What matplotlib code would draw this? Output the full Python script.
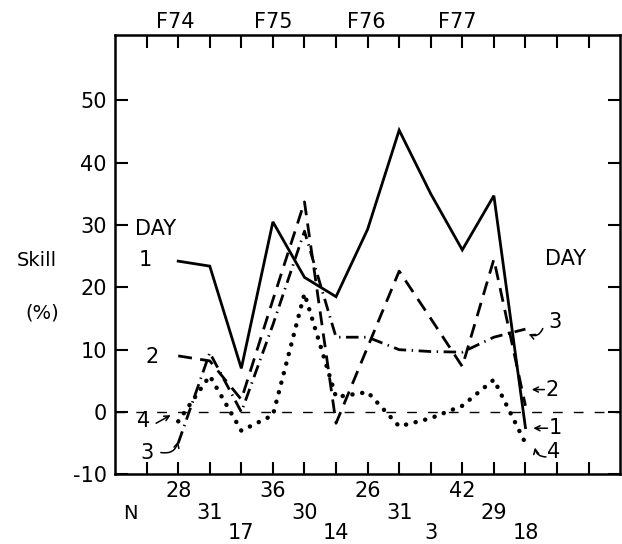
import matplotlib
matplotlib.use("Agg")
import matplotlib.pyplot as plt

# season index along the x axis (ticks 1..15), data at 2..13
seasons = [2, 3, 4, 5, 6, 7, 8, 9, 10, 11, 12, 13]
day1 = [24.2, 23.4, 7.0, 30.5, 21.6, 18.5, 29.3, 45.2, 35.0, 26.0, 34.7, -2.5]
day2 = [9.0, 8.2, 2.0, 18.0, 33.7, -1.8, 10.4, 22.6, 15.0, 7.3, 24.5, 1.0]
day3 = [-5.0, 9.5, 0.0, 14.0, 29.0, 12.0, 12.0, 10.0, 9.7, 9.6, 12.0, 13.3]
day4 = [-1.5, 5.8, -3.0, -0.5, 19.0, 2.4, 3.2, -2.3, -1.0, 1.0, 5.2, -5.0]

n_cases = ["28", "31", "17", "36", "30", "14", "26", "31", "3", "42", "29", "18"]
years = ["F74", "F75", "F76", "F77"]
year_pos = [1.9, 5.0, 7.95, 10.85]

plt.rcParams["font.family"] = "DejaVu Sans"
plt.rcParams["lines.scale_dashes"] = False

fig = plt.figure(figsize=(6.22, 5.44), dpi=100)
ax = fig.add_axes([0.185, 0.128, 0.812, 0.808])

ax.axhline(0, color="black", lw=1.0, dashes=(7, 8))

ax.plot(seasons, day1, color="black", lw=2.0, solid_joinstyle="miter")
ax.plot(seasons, day2, color="black", lw=2.0, dashes=(10, 6))
ax.plot(seasons, day3, color="black", lw=2.0, dashes=(9, 4, 1, 4))
ax.plot(seasons, day4, color="black", lw=3.2, dashes=(0.1, 7),
        dash_capstyle="round")

ax.set_xlim(0, 16)
ax.set_ylim(-10, 60.5)
ax.set_xticks(range(1, 16))
ax.set_xticklabels([])
ax.set_yticks(range(-10, 60, 10))
ax.set_yticklabels(["-10", "0", "10", "20", "30", "40", "50"], fontsize=15)
ax.tick_params(direction="in", length=9, width=1.5, top=True, right=True)
ax.tick_params(axis="y", pad=6)
for s in ax.spines.values():
    s.set_linewidth(1.8)

# N row under the axis, staggered on three lines
rows = [-0.037, -0.089, -0.133]
tr = ax.get_xaxis_transform()
for i, (x, n) in enumerate(zip(seasons, n_cases)):
    ax.text(x, rows[i % 3], n, transform=tr, ha="center", va="center",
            fontsize=15, clip_on=False)
ax.text(0.5, rows[1], "N", transform=tr, ha="center", va="center",
        fontsize=14, clip_on=False)

for x, y in zip(year_pos, years):
    ax.text(x, 1.03, y, transform=tr, ha="center", va="center",
            fontsize=15, clip_on=False)

fig.text(37 / 622, 1 - 260 / 544, "Skill", ha="center", va="center", fontsize=14)
fig.text(42 / 622, 1 - 313 / 544, "(%)", ha="center", va="center", fontsize=14)


def arrow(tail, head, rad=0.0):
    ax.annotate("", xy=head, xytext=tail,
                arrowprops=dict(arrowstyle="->", color="black", lw=1.1,
                                connectionstyle="arc3,rad=%s" % rad,
                                shrinkA=0, shrinkB=0, mutation_scale=9))


# left labels
ax.text(1.27, 29.3, "DAY", ha="center", va="center", fontsize=15)
ax.text(0.97, 24.4, "1", ha="center", va="center", fontsize=15)
ax.text(1.16, 8.8, "2", ha="center", va="center", fontsize=15)
ax.text(0.9, -1.4, "4", ha="center", va="center", fontsize=15)
arrow((1.3, -1.8), (1.76, -0.5))
ax.text(1.0, -6.6, "3", ha="center", va="center", fontsize=15)
arrow((1.45, -6.5), (2.0, -4.7), rad=0.45)

# right labels
ax.text(14.28, 24.6, "DAY", ha="center", va="center", fontsize=15)
ax.text(13.95, 14.5, "3", ha="center", va="center", fontsize=15)
arrow((13.55, 13.4), (13.1, 12.5), rad=-0.5)
ax.text(13.85, 3.6, "2", ha="center", va="center", fontsize=15)
arrow((13.6, 3.6), (13.2, 3.6))
ax.text(13.95, -2.6, "1", ha="center", va="center", fontsize=15)
arrow((13.7, -2.6), (13.25, -2.6))
ax.text(13.9, -6.4, "4", ha="center", va="center", fontsize=15)
arrow((13.65, -7.2), (13.3, -5.7), rad=-0.4)

fig.savefig("out.png", dpi=100)
